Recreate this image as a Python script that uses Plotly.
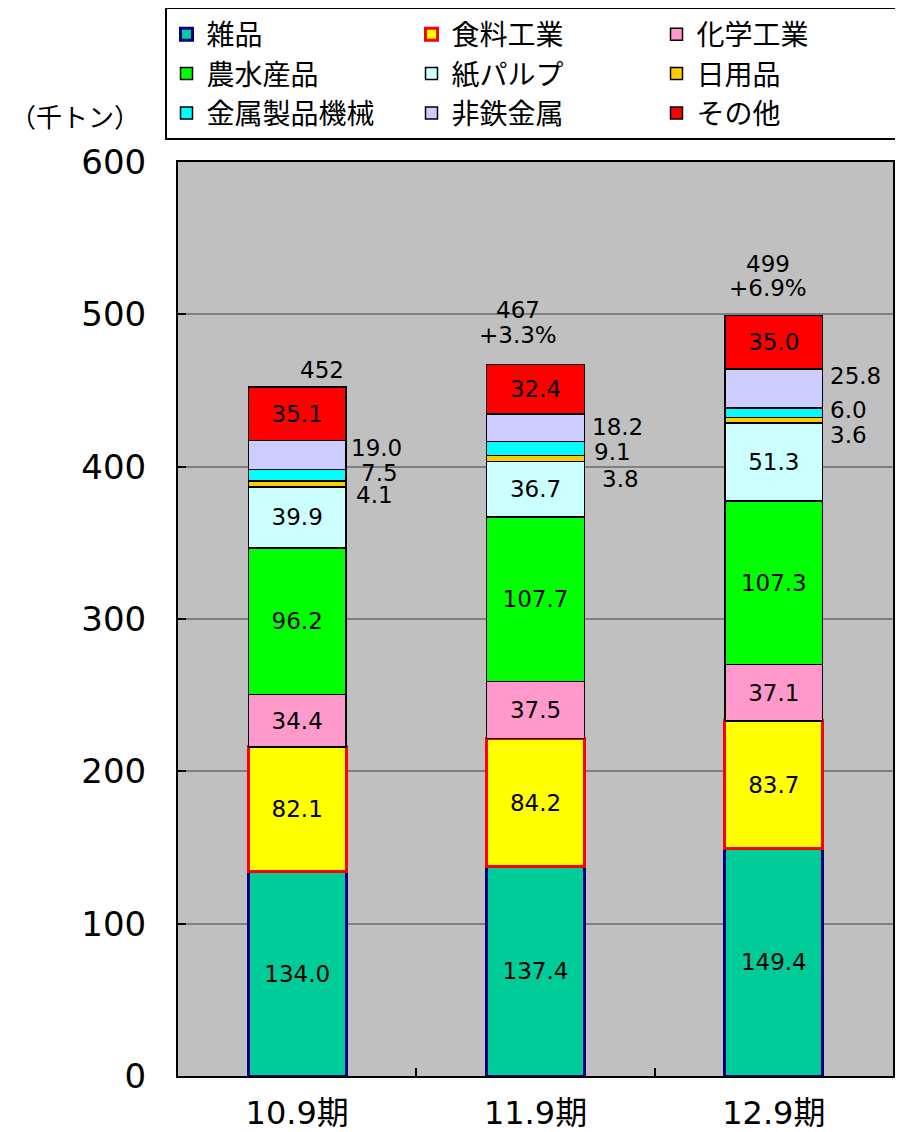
import plotly.graph_objects as go

categories = ["10.9期", "11.9期", "12.9期"]
series_names = ["雑品", "食料工業", "化学工業", "農水産品", "紙パルプ", "日用品", "金属製品機械", "非鉄金属", "その他"]
zappin = [134.0, 137.4, 149.4]
shokuryo = [82.1, 84.2, 83.7]
kagaku = [34.4, 37.5, 37.1]
nousui = [96.2, 107.7, 107.3]
kami = [39.9, 36.7, 51.3]
nichiyo = [4.1, 3.8, 3.6]
kinzoku = [7.5, 9.1, 6.0]
hitetsu = [19.0, 18.2, 25.8]
sonota = [35.1, 32.4, 35.0]
total_text = ["452", "467", "499"]
growth_text = ["", "+3.3%", "+6.9%"]
y_ticks = [0, 100, 200, 300, 400, 500, 600]

values = [zappin, shokuryo, kagaku, nousui, kami, nichiyo, kinzoku, hitetsu, sonota]
fills = ["#00CC99", "#FFFF00", "#FF99CC", "#00FF00", "#CCFFFF", "#FFCC00", "#00FFFF", "#CCCCFF", "#FF0000"]
lines = ["#000080", "#FF0000", "#000000", "#000000", "#000000", "#000000", "#000000", "#000000", "#000000"]
lwidths = [3, 3, 1.5, 1.5, 1.5, 1.5, 1.5, 1.5, 1.5]
inside = [True, True, True, True, True, False, False, False, True]

NUMFONT = "DejaVu Sans, Noto Sans CJK JP"
CJK = "Noto Sans CJK JP"
fig = go.Figure()
for name, vals, fc, lc, lw, ins in zip(series_names, values, fills, lines, lwidths, inside):
    fig.add_trace(go.Bar(
        name=name, x=categories, y=vals, width=0.41,
        marker=dict(color=fc, line=dict(color=lc, width=lw)),
        text=[f"{v:.1f}" for v in vals] if ins else None,
        textposition="inside" if ins else "none",
        insidetextanchor="middle", textangle=0, constraintext="none",
        textfont=dict(size=23, color="black", family=NUMFONT),
        hoverinfo="skip",
    ))

annotations = []
# outside labels for small series (日用品, 金属製品機械, 非鉄金属)
small_idx = [5, 6, 7]
xshifts = {5: [57, 64, 54], 6: [62, 56, 54], 7: [52, 54, 54]}
yshifts = {5: [-11, -21, -15], 6: [2, -3, 3], 7: [7, 1, 13]}
for si in small_idx:
    for ci in range(3):
        base = sum(values[k][ci] for k in range(si))
        center = base + values[si][ci] / 2
        annotations.append(dict(
            x=ci, y=center, xref="x", yref="y", text=f"{values[si][ci]:.1f}",
            showarrow=False, xanchor="left", yanchor="middle",
            xshift=xshifts[si][ci], yshift=yshifts[si][ci],
            font=dict(size=23, color="black", family=NUMFONT)))

tot_xshift = [25, -18, -6]
tot_yshift = [17, 55, 52]
gro_yshift = [0, 30, 28]
for ci in range(3):
    tot = sum(values[k][ci] for k in range(len(values)))
    annotations.append(dict(
        x=ci, y=tot, xref="x", yref="y", text=total_text[ci],
        showarrow=False, xanchor="center", yanchor="middle",
        xshift=tot_xshift[ci], yshift=tot_yshift[ci],
        font=dict(size=23, color="black", family=NUMFONT)))
    if growth_text[ci]:
        annotations.append(dict(
            x=ci, y=tot, xref="x", yref="y", text=growth_text[ci],
            showarrow=False, xanchor="center", yanchor="middle",
            xshift=tot_xshift[ci], yshift=gro_yshift[ci],
            font=dict(size=23, color="black", family=NUMFONT)))

annotations.append(dict(
    x=(75 - 178) / 715, y=(1076 - 115) / 914, xref="paper", yref="paper", text="（千トン）",
    showarrow=False, xanchor="center", yanchor="middle",
    font=dict(size=26, color="black", family=CJK)))

# page body has an 8px margin, so the figure is 8px smaller and margins shifted
fig.update_layout(
    width=895, height=1124,
    margin=dict(l=170, r=10, t=154, b=56, autoexpand=False),
    paper_bgcolor="white", plot_bgcolor="#C0C0C0",
    barmode="stack",
    font=dict(family=CJK, color="black"),
    showlegend=True,
    legend=dict(
        orientation="h", traceorder="normal",
        x=-13 / 715, y=1.1685, xanchor="left", yanchor="top",
        entrywidth=200, entrywidthmode="pixels",
        bgcolor="white", bordercolor="black", borderwidth=1.5,
        font=dict(size=28, color="black", family=CJK),
    ),
    annotations=annotations,
    xaxis=dict(
        type="category", range=[-0.5, 2.5], automargin=False,
        showline=True, linecolor="black", linewidth=2, mirror=True,
        ticks="inside", tickson="boundaries", ticklen=8, tickcolor="black", tickwidth=1.5,
        tickfont=dict(size=32, color="black", family=NUMFONT),
        ticklabelstandoff=8, showgrid=False,
    ),
    yaxis=dict(
        range=[0, 600], tickvals=y_ticks, automargin=False,
        showline=True, linecolor="black", linewidth=2, mirror=True,
        ticks="inside", ticklen=8, tickcolor="black", tickwidth=1.5,
        tickfont=dict(size=34, color="black", family=NUMFONT),
        ticklabelstandoff=23,
        showgrid=True, gridcolor="#808080", gridwidth=1.5, zeroline=False,
    ),
)

fig.write_html("out.html")
